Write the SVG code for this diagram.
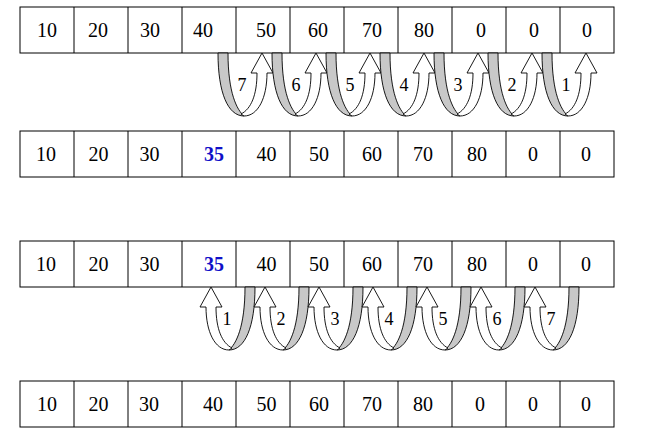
<svg xmlns="http://www.w3.org/2000/svg" xmlns:xlink="http://www.w3.org/1999/xlink" width="647" height="433" viewBox="0 0 647 433">
<style>
.cell{fill:#fff;stroke:#000;stroke-width:1}
.v{font-family:"Liberation Serif","Times New Roman",serif;font-size:20px;fill:#000;text-anchor:middle}
.hl{fill:#1010c8;font-weight:bold}
.lbl{font-family:"Liberation Serif","Times New Roman",serif;font-size:18px;fill:#000;text-anchor:middle}
.back{fill:#c8c8c8;stroke:#000;stroke-width:0.9}
.front{fill:#fff;stroke:#000;stroke-width:0.9}
</style>
<defs>
<g id="uturn">
<path class="back" d="M-44,0 C-44,40 -34,63 -18,63 C-25,57 -34,40 -34,0 Z"/>
<path class="front" d="M-18,63 C-4,63 5,45 5,20 L11,20 L0,0 L-11,20 L-5,20 C-5,42 -11,56 -21,61 Z"/>
</g>
</defs>
<rect width="647" height="433" fill="#fff"/>
<g id="row1">
<rect class="cell" x="20" y="7" width="594" height="46"/>
<path d="M74,7V53M128,7V53M182,7V53M236,7V53M290,7V53M344,7V53M398,7V53M452,7V53M506,7V53M560,7V53" stroke="#000" stroke-width="1"/>
<text class="v" x="47" y="37">10</text><text class="v" x="98" y="37">20</text><text class="v" x="150" y="37">30</text><text class="v" x="203" y="37">40</text><text class="v" x="266" y="37">50</text><text class="v" x="318" y="37">60</text><text class="v" x="372" y="37">70</text><text class="v" x="424" y="37">80</text><text class="v" x="481" y="37">0</text><text class="v" x="534" y="37">0</text><text class="v" x="587" y="37">0</text>
</g>
<g id="row2">
<rect class="cell" x="20" y="131" width="594" height="46"/>
<path d="M74,131V177M128,131V177M182,131V177M236,131V177M290,131V177M344,131V177M398,131V177M452,131V177M506,131V177M560,131V177" stroke="#000" stroke-width="1"/>
<text class="v" x="46" y="161">10</text><text class="v" x="98.5" y="161">20</text><text class="v" x="149.5" y="161">30</text><text class="v hl" x="214" y="161">35</text><text class="v" x="266.5" y="161">40</text><text class="v" x="319" y="161">50</text><text class="v" x="372" y="161">60</text><text class="v" x="423" y="161">70</text><text class="v" x="477" y="161">80</text><text class="v" x="533" y="161">0</text><text class="v" x="586" y="161">0</text>
</g>
<g id="row3">
<rect class="cell" x="20" y="241" width="594" height="46"/>
<path d="M74,241V287M128,241V287M182,241V287M236,241V287M290,241V287M344,241V287M398,241V287M452,241V287M506,241V287M560,241V287" stroke="#000" stroke-width="1"/>
<text class="v" x="46" y="271">10</text><text class="v" x="98.5" y="271">20</text><text class="v" x="149.5" y="271">30</text><text class="v hl" x="214" y="271">35</text><text class="v" x="266.5" y="271">40</text><text class="v" x="319" y="271">50</text><text class="v" x="372" y="271">60</text><text class="v" x="423" y="271">70</text><text class="v" x="477" y="271">80</text><text class="v" x="533" y="271">0</text><text class="v" x="586" y="271">0</text>
</g>
<g id="row4">
<rect class="cell" x="20" y="381" width="594" height="46"/>
<path d="M74,381V427M128,381V427M182,381V427M236,381V427M290,381V427M344,381V427M398,381V427M452,381V427M506,381V427M560,381V427" stroke="#000" stroke-width="1"/>
<text class="v" x="47" y="411">10</text><text class="v" x="98.5" y="411">20</text><text class="v" x="149" y="411">30</text><text class="v" x="213" y="411">40</text><text class="v" x="266.5" y="411">50</text><text class="v" x="319" y="411">60</text><text class="v" x="372" y="411">70</text><text class="v" x="423" y="411">80</text><text class="v" x="480" y="411">0</text><text class="v" x="533" y="411">0</text><text class="v" x="586" y="411">0</text>
</g>
<g id="connectors">
<g id="top-arrows">
<use xlink:href="#uturn" transform="translate(262,53)"/><text class="lbl" x="242" y="91">7</text>
<use xlink:href="#uturn" transform="translate(316,53)"/><text class="lbl" x="296" y="91">6</text>
<use xlink:href="#uturn" transform="translate(370,53)"/><text class="lbl" x="350" y="91">5</text>
<use xlink:href="#uturn" transform="translate(424,53)"/><text class="lbl" x="404" y="91">4</text>
<use xlink:href="#uturn" transform="translate(478,53)"/><text class="lbl" x="458" y="91">3</text>
<use xlink:href="#uturn" transform="translate(532,53)"/><text class="lbl" x="512" y="91">2</text>
<use xlink:href="#uturn" transform="translate(586,53)"/><text class="lbl" x="566" y="91">1</text>
</g>
<g id="bottom-arrows">
<use xlink:href="#uturn" transform="translate(211,287) scale(-1,1)"/><text class="lbl" x="227" y="325">1</text>
<use xlink:href="#uturn" transform="translate(265,287) scale(-1,1)"/><text class="lbl" x="281" y="325">2</text>
<use xlink:href="#uturn" transform="translate(319,287) scale(-1,1)"/><text class="lbl" x="335" y="325">3</text>
<use xlink:href="#uturn" transform="translate(373,287) scale(-1,1)"/><text class="lbl" x="389" y="325">4</text>
<use xlink:href="#uturn" transform="translate(427,287) scale(-1,1)"/><text class="lbl" x="443" y="325">5</text>
<use xlink:href="#uturn" transform="translate(481,287) scale(-1,1)"/><text class="lbl" x="497" y="325">6</text>
<use xlink:href="#uturn" transform="translate(535,287) scale(-1,1)"/><text class="lbl" x="551" y="325">7</text>
</g>
</g>
</svg>
